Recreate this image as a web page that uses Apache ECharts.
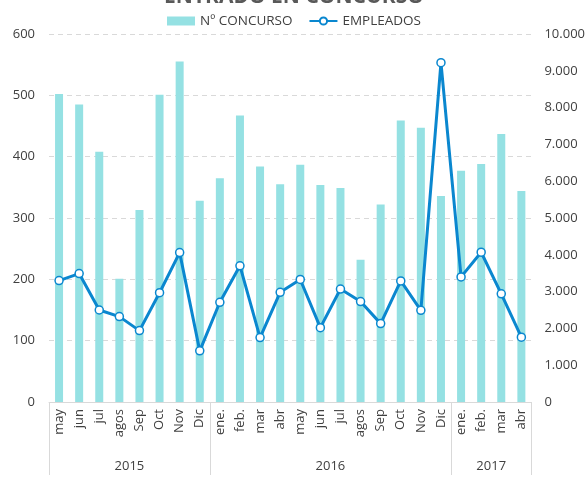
<!DOCTYPE html>
<html><head><meta charset="utf-8">
<script src="https://cdn.jsdelivr.net/npm/echarts@6/dist/echarts.min.js"></script>
<style>html,body{margin:0;padding:0;background:#fff}#c{width:588px;height:480px}</style>
</head><body><div id="c"></div>
<script>
const months = ['may','jun','jul','agos','Sep','Oct','Nov','Dic','ene.','feb.','mar','abr','may','jun','jul','agos','Sep','Oct','Nov','Dic','ene.','feb.','mar','abr'];
const years = ['2015','2016','2017'];
const yearCounts = [8,12,4];
const concurso = [502,485,408,201,313,501,555,328,365,467,384,355,387,354,349,232,322,459,447,336,377,388,437,344];
const empleados = [3300,3490,2500,2320,1940,2970,4060,1390,2710,3700,1750,2980,3330,2020,3070,2730,2130,3290,2490,9220,3400,4070,2940,1760];
const leftTicks = {min:0,max:600,interval:100};
const rightTicks = {min:0,max:10000,interval:1000};

const bounds=[0]; yearCounts.forEach(c=>bounds.push(bounds[bounds.length-1]+c));
const centers = yearCounts.map((c,i)=>bounds[i]+c/2);

const fontFam = '"Open Sans", "Noto Sans", sans-serif';
const txt = '#404040';
const chart = echarts.init(document.getElementById('c'));
chart.setOption({
  animation:false,
  title:{text:'ENTRADO EN CONCURSO',left:'center',top:-18,textStyle:{fontSize:21,fontWeight:'bold',color:'#595959',fontFamily:fontFam}},
  legend:{top:9,left:'center',itemGap:16,itemWidth:28,itemHeight:9,
    textStyle:{fontSize:13.5,color:txt,fontFamily:fontFam},
    data:[{name:'Nº CONCURSO',icon:'rect'},{name:'EMPLEADOS'}]},
  grid:{left:49,right:56,top:34,bottom:78,containLabel:false},
  xAxis:[{
    type:'category',data:months,position:'bottom',
    axisLine:{lineStyle:{color:'#d9d9d9'}},axisTick:{show:false},
    axisLabel:{rotate:90,fontSize:13,color:txt,fontFamily:fontFam,margin:7,interval:0}
  },{
    type:'value',min:0,max:bounds[bounds.length-1],position:'bottom',
    axisLine:{show:false},splitLine:{show:false},
    axisTick:{show:true,inside:false,length:73,customValues:bounds,lineStyle:{color:'#d9d9d9'}},
    axisLabel:{customValues:centers,margin:58,fontSize:13,color:txt,fontFamily:fontFam,
      formatter:v=>{const i=centers.indexOf(v);return i>=0?years[i]:'';}}
  }],
  yAxis:[{
    type:'value',min:leftTicks.min,max:leftTicks.max,interval:leftTicks.interval,
    axisLine:{show:false},axisTick:{show:false},
    axisLabel:{fontSize:13,color:txt,fontFamily:fontFam,margin:14},
    splitLine:{lineStyle:{color:'#d9d9d9',type:[5,4]}}
  },{
    type:'value',min:rightTicks.min,max:rightTicks.max,interval:rightTicks.interval,position:'right',
    axisLine:{show:false},axisTick:{show:false},splitLine:{show:false},
    axisLabel:{fontSize:13,color:txt,fontFamily:fontFam,margin:13,
      formatter:v=>v.toString().replace(/\B(?=(\d{3})+(?!\d))/g,'.')}
  }],
  series:[{
    name:'Nº CONCURSO',type:'bar',data:concurso,barWidth:8,xAxisIndex:0,yAxisIndex:0,
    itemStyle:{color:'#95E1E3'}
  },{
    name:'EMPLEADOS',type:'line',data:empleados,xAxisIndex:0,yAxisIndex:1,
    symbol:'circle',symbolSize:8,
    lineStyle:{color:'#0A87CF',width:3},
    itemStyle:{color:'#fff',borderColor:'#0A87CF',borderWidth:1.5}
  }]
});
</script></body></html>
